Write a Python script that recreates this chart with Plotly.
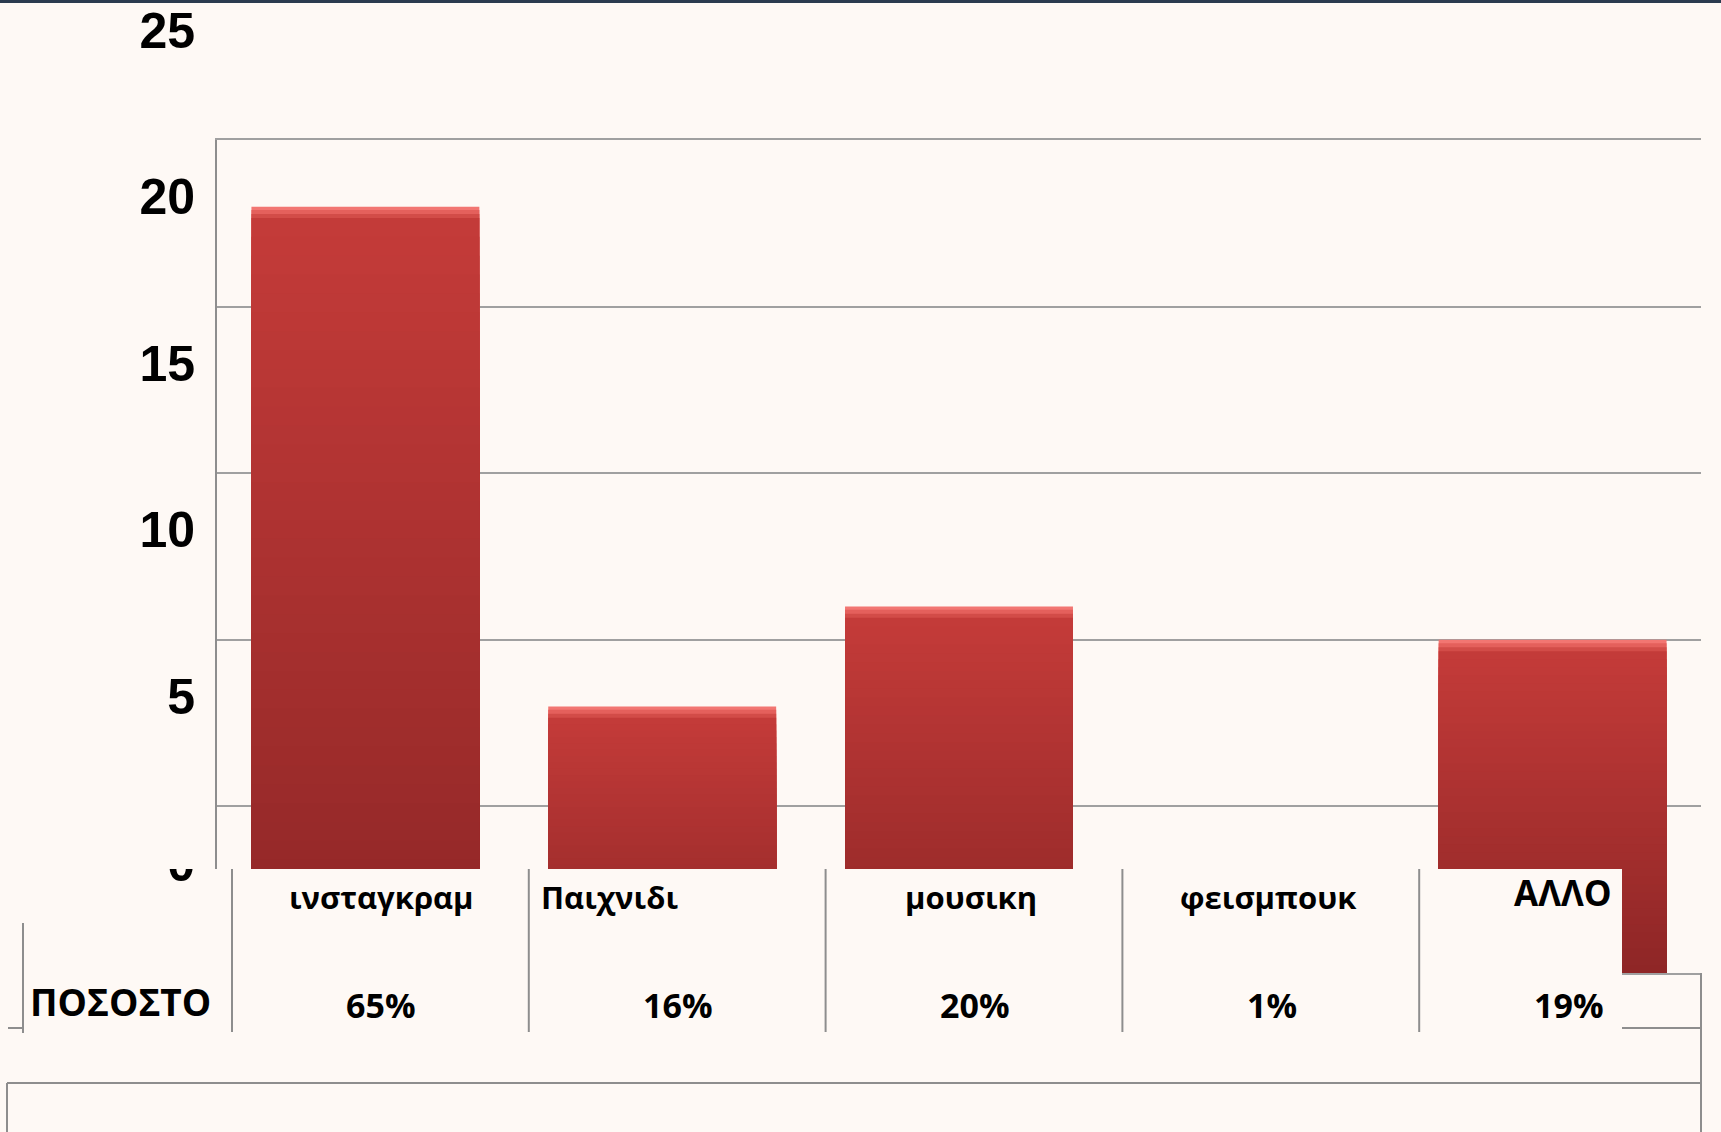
import plotly.graph_objects as go

# ---------------- data ----------------
categories = ["ινσταγκραμ", "Παιχνιδι", "μουσικη", "φεισμπουκ", "ΑΛΛΟ"]
values = [23, 8, 11, 0, 10]
percent_labels = ["65%", "16%", "20%", "1%", "19%"]
row_header = "ΠΟΣΟΣΤΟ"
y_ticks = [0, 5, 10, 15, 20, 25]
y_tick_text = ["0", "5", "10", "15", "20", "25"]

# ---------------- geometry / style ----------------
W, H = 1721, 1132
L, R, T, B = 217, 20, 140, 159
PW = W - L - R
PH = H - T - B
COLW = PW / len(categories)
BG = "#fef9f5"
GRID = "#a0a0a0"
LINE = "#8e8e8e"
TXT = "#000000"
TABLE_SHIFT = 15 / COLW          # table columns sit ~15px right of the categories
name_anchor = ["center", "left", "center", "center", "center"]
name_xshift = [16, -123, 12, 13, 10]
name_yshift = [0, 0, 0, 0, 4]
name_size = [31, 31, 31, 31, 35]


def pxx(x):
    return (x - L) / PW


def pxy(y):
    return (H - B - y) / PH


def rgb(c):
    return "rgb(%d,%d,%d)" % c


def lerp(a, b, t):
    return tuple(int(round(a[i] + (b[i] - a[i]) * t)) for i in range(3))


fig = go.Figure()

# bevel highlight on top of each bar
bevel = [(0.0, "#f27672"), (0.1, "#e4605c"), (0.22, "#d24c48")]
for j, (off, col) in enumerate(bevel):
    fig.add_trace(go.Bar(x=categories, y=[max(v - off, 0) for v in values],
                         marker=dict(color=col, line_width=0),
                         hovertemplate="%{x}: %{y}<extra></extra>" if j == 0 else None,
                         hoverinfo=None if j == 0 else "skip"))

# vertical gradient body (each bar darkens towards its base)
top_c = (196, 59, 57)
bot_c = (142, 38, 38)
N = 40
TOP_OFF = 0.34
for k in range(N):
    f = 1 - k / N
    c = lerp(top_c, bot_c, (k + 0.5) / N)
    fig.add_trace(go.Bar(x=categories, y=[max(v - TOP_OFF, 0) * f for v in values],
                         marker=dict(color=rgb(c), line_width=0), hoverinfo="skip"))

shapes = []


def prect(x0, y0, x1, y1, color):
    shapes.append(dict(type="rect", xref="paper", yref="paper", x0=pxx(x0), x1=pxx(x1),
                       y0=pxy(y1), y1=pxy(y0), fillcolor=color, line=dict(width=0), layer="above"))


def pline(x0, y0, x1, y1, color=LINE, w=2):
    shapes.append(dict(type="line", xref="paper", yref="paper", x0=pxx(x0), x1=pxx(x1),
                       y0=pxy(y0), y1=pxy(y1), line=dict(color=color, width=w), layer="above"))


# dark band at the very top
prect(0, 0, W, 3, "#2b3b4f")
# data-table background overlay (covers bar bases)
prect(200, 869, 1622, 1032, BG)
# hides upper part of the "0" tick label
prect(120, 815, 200, 869, BG)

# table column separators aligned with the categories
for i in range(len(categories)):
    xb = i - 0.5 + TABLE_SHIFT
    shapes.append(dict(type="line", xref="x", yref="paper", x0=xb, x1=xb,
                       y0=pxy(1032), y1=pxy(869), line=dict(color=LINE, width=2), layer="above"))

# row-header border and frame pieces
pline(23, 923, 23, 1033)
pline(8, 1028, 23, 1028)
pline(1622, 1028, 1701, 1028)
pline(1701, 973, 1701, H + 2)
pline(7, 1083, 1701, 1083)
pline(7, 1083, 7, H + 2)

annotations = []
annotations.append(dict(text="<b>%s</b>" % row_header, xref="paper", yref="paper",
                        x=pxx(28), y=pxy(1001), xanchor="left", yanchor="middle", showarrow=False,
                        font=dict(family="Open Sans, Noto Sans, sans-serif", size=37, color=TXT)))
for i, (cat, pct) in enumerate(zip(categories, percent_labels)):
    annotations.append(dict(text="<b>%s</b>" % cat, xref="x", yref="paper", x=cat,
                            xshift=name_xshift[i], y=pxy(896.5), yshift=name_yshift[i],
                            xanchor=name_anchor[i], yanchor="middle", showarrow=False,
                            font=dict(family="Open Sans, Noto Sans, sans-serif",
                                      size=name_size[i], color=TXT)))
    annotations.append(dict(text="<b>%s</b>" % pct, xref="x", yref="paper", x=cat,
                            xshift=16, y=pxy(1005), xanchor="center", yanchor="middle",
                            showarrow=False,
                            font=dict(family="Open Sans, Noto Sans, sans-serif", size=34, color=TXT)))

fig.update_layout(
    width=W, height=H,
    margin=dict(l=L, r=R, t=T, b=B, pad=0, autoexpand=False),
    paper_bgcolor=BG, plot_bgcolor=BG,
    barmode="overlay", bargap=0.232,
    showlegend=False,
    xaxis=dict(type="category", range=[-0.5, len(categories) - 0.5], showgrid=False,
               showticklabels=False, ticks="", showline=True, mirror=True, linecolor=GRID,
               linewidth=2, zeroline=False, fixedrange=True, automargin=False),
    yaxis=dict(range=[0, 25], tickvals=y_ticks, ticktext=y_tick_text, showgrid=True,
               gridcolor=GRID, gridwidth=2, zeroline=False, showline=True, linecolor=LINE,
               linewidth=2, ticks="", automargin=False,
               tickfont=dict(family="Liberation Sans, Arial, sans-serif", size=50, color=TXT,
                             weight="bold"),
               ticklabelshift=-110, ticklabelstandoff=10, fixedrange=True),
    shapes=shapes,
    annotations=annotations,
)

fig.write_html("out.html", config={"displayModeBar": False},
               post_script="document.body.style.margin='0';document.body.style.overflow='hidden';")
